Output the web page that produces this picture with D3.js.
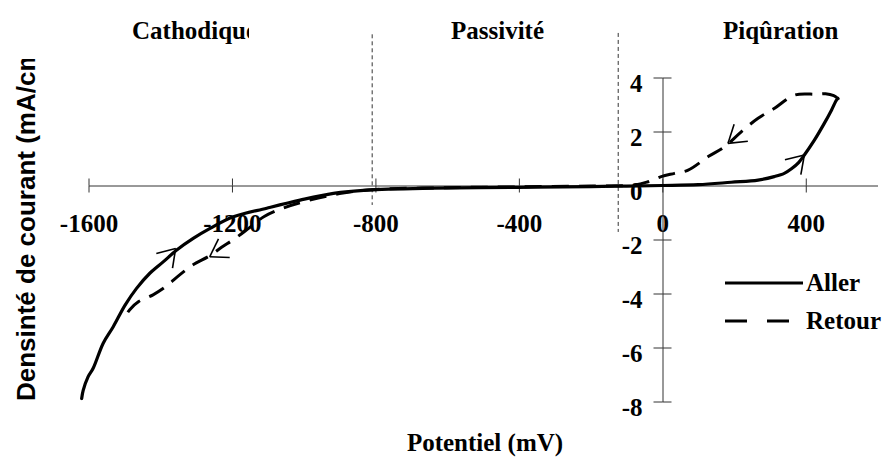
<!DOCTYPE html>
<html>
<head>
<meta charset="utf-8">
<script src="https://cdn.jsdelivr.net/npm/d3@7"></script>
<style>
  html, body { margin: 0; padding: 0; background: #fff; }
  svg { display: block; }
  .serif { font-family: "Liberation Serif", "Times New Roman", serif; font-weight: bold; }
  .sans { font-family: "Liberation Sans", Arial, sans-serif; font-weight: bold; }
</style>
</head>
<body>
<svg id="chart" width="882" height="457"></svg>
<script>
// ---------- data ----------
const xTicks = [-1600, -1200, -800, -400, 0, 400];
const yTicks = [4, 2, 0, -2, -4, -6, -8];

const allerX = [-1619, -1615, -1601, -1587, -1559, -1531, -1498, -1466, -1429, -1391, -1354, -1308, -1261, -1196, -1103, -1010, -917, -824, -639, -400, -200, -100, 0, 100, 192, 267, 312, 340, 360, 380, 396, 424, 452, 472, 486, 490];
const allerY = [-7.89, -7.6, -7.08, -6.77, -5.84, -5.23, -4.43, -3.81, -3.25, -2.82, -2.39, -1.96, -1.59, -1.16, -0.84, -0.54, -0.29, -0.17, -0.10, -0.07, -0.04, -0.02, 0, 0.03, 0.12, 0.2, 0.33, 0.45, 0.62, 0.85, 1.13, 1.68, 2.31, 2.8, 3.17, 3.22];

const retourX = [490, 478, 455, 430, 369, 313, 267, 220, 174, 128, 72, 34, -3, -40, -77, -200, -400, -600, -800, -900, -1000, -1060, -1110, -1150, -1190, -1230, -1262, -1310, -1345, -1385, -1420, -1460, -1485, -1500];
const retourY = [3.22, 3.33, 3.4, 3.38, 3.35, 2.86, 2.49, 1.99, 1.44, 1.07, 0.57, 0.45, 0.33, 0.14, 0.02, -0.02, -0.05, -0.08, -0.15, -0.3, -0.6, -0.85, -1.15, -1.55, -1.95, -2.3, -2.6, -2.95, -3.3, -3.75, -4.05, -4.3, -4.6, -4.9];

// direction arrows on the curves (position in data units, back angle in degrees)
const arrowX = [-1357, -1262, 396, 183];
const arrowY = [-2.33, -2.64, 1.13, 1.56];
const arrowBack = [132, -31, 133, -39];

// region boundaries (mV) and their vertical extent (mA/cm²)
const boundX = [-809, -123];
const boundTop = [5.6, 5.65];
const boundBottom = [-0.72, -1.72];

const regionNames = ["Cathodique", "Passivité", "Piqûration"];
const seriesNames = ["Aller", "Retour"];
const xTitle = "Potentiel (mV)";
const yTitle = "Densinté de courant (mA/cm²)";

// ---------- scales ----------
const svg = d3.select("#chart");
const x = d3.scaleLinear().domain([-1600, 600]).range([88.5, 877.5]);
const y = d3.scaleLinear().domain([-8, 4]).range([401.5, 77.5]);
const x0 = Math.round(x(0)) + 0.5, y0 = y(0);

const defs = svg.append("defs");
defs.append("clipPath").attr("id", "clipCath").append("rect")
  .attr("x", 0).attr("y", 0).attr("width", 249).attr("height", 80);
defs.append("clipPath").attr("id", "clipY").append("rect")
  .attr("x", 0).attr("y", 59).attr("width", 80).attr("height", 398);

// ---------- region boundaries ----------
svg.append("g").selectAll("line").data(boundX).join("line")
  .attr("x1", d => x(d)).attr("x2", d => x(d))
  .attr("y1", (d, i) => y(boundTop[i])).attr("y2", (d, i) => y(boundBottom[i]))
  .attr("stroke", "#333").attr("stroke-width", 1).attr("stroke-dasharray", "4,3");

// ---------- axes ----------
function styleAxis(g) {
  g.selectAll("path.domain").attr("stroke", "#333").attr("stroke-width", 1);
  g.selectAll(".tick line").attr("stroke", "#333").attr("stroke-width", 1);
}
const xAxisB = svg.append("g").attr("transform", `translate(0,${y0})`)
  .call(d3.axisBottom(x).tickValues(xTicks).tickSizeInner(7).tickSizeOuter(0).tickPadding(22).tickFormat(d3.format("d")));
xAxisB.call(styleAxis);
xAxisB.selectAll("text").attr("class", "serif").attr("font-size", 25).attr("fill", "#000")
  .text(d => String(d));
const xAxisT = svg.append("g").attr("transform", `translate(0,${y0})`)
  .call(d3.axisTop(x).tickValues(xTicks).tickSizeInner(7).tickSizeOuter(0).tickFormat(""));
xAxisT.call(styleAxis);
xAxisT.select(".domain").remove();

const yAxisL = svg.append("g").attr("transform", `translate(${x0},0)`)
  .call(d3.axisLeft(y).tickValues(yTicks).tickSizeInner(9).tickSizeOuter(0).tickPadding(11).tickFormat(d3.format("d")));
yAxisL.call(styleAxis);
yAxisL.selectAll("text").attr("class", "serif").attr("font-size", 25).attr("fill", "#000")
  .attr("dy", "0.55em").text(d => String(d));
yAxisL.selectAll(".tick").filter(d => d === 0).select("line").remove();
const yAxisR = svg.append("g").attr("transform", `translate(${x0},0)`)
  .call(d3.axisRight(y).tickValues(yTicks.filter(d => d !== 0)).tickSizeInner(9).tickSizeOuter(0).tickFormat(""));
yAxisR.call(styleAxis);
yAxisR.select(".domain").remove();

// ---------- curves ----------
const line = d3.line().x(d => x(d[0])).y(d => y(d[1])).curve(d3.curveCatmullRom.alpha(0.5));
const allerPts = allerX.map((v, i) => [v, allerY[i]]);
const retourPts = retourX.map((v, i) => [v, retourY[i]]);

svg.append("path").datum(retourPts).attr("d", line)
  .attr("fill", "none").attr("stroke", "#000").attr("stroke-width", 3)
  .attr("stroke-dasharray", "17,10").attr("stroke-linecap", "butt");
svg.append("path").datum(allerPts).attr("d", line)
  .attr("fill", "none").attr("stroke", "#000").attr("stroke-width", 3.2)
  .attr("stroke-linejoin", "round").attr("stroke-linecap", "round");

// ---------- arrows ----------
const wingLen = 20, half = 33;
const arrows = arrowX.map((v, i) => ({ px: x(v), py: y(arrowY[i]), back: arrowBack[i] }));
const ag = svg.append("g");
arrows.forEach(a => {
  [-half, half].forEach(h => {
    const ang = (a.back + h) * Math.PI / 180;
    ag.append("line")
      .attr("x1", a.px).attr("y1", a.py)
      .attr("x2", a.px + wingLen * Math.cos(ang)).attr("y2", a.py + wingLen * Math.sin(ang))
      .attr("stroke", "#000").attr("stroke-width", 1.6);
  });
});

// ---------- region titles ----------
const titleX = [132, 451, 723];
svg.append("g").selectAll("text").data(regionNames).join("text")
  .attr("class", "serif").attr("font-size", 25).attr("fill", "#000")
  .attr("x", (d, i) => titleX[i]).attr("y", 39)
  .attr("clip-path", (d, i) => i === 0 ? "url(#clipCath)" : null)
  .text(d => d);

// ---------- axis titles ----------
svg.append("text").attr("class", "serif").attr("font-size", 25).attr("fill", "#000")
  .attr("x", 485).attr("y", 451).attr("text-anchor", "middle").text(xTitle);
svg.append("g").attr("clip-path", "url(#clipY)")
  .append("text").attr("class", "sans").attr("font-size", 26).attr("fill", "#000")
  .attr("transform", "translate(35,401) rotate(-90)").attr("text-anchor", "start").text(yTitle);

// ---------- legend ----------
const legY = [283, 321];
const lg = svg.append("g");
seriesNames.forEach((name, i) => {
  lg.append("line").attr("x1", 725).attr("x2", i === 0 ? 803 : 792)
    .attr("y1", legY[i]).attr("y2", legY[i])
    .attr("stroke", "#000").attr("stroke-width", 3)
    .attr("stroke-dasharray", i === 0 ? null : "22,20");
  lg.append("text").attr("class", "serif").attr("font-size", 25).attr("fill", "#000")
    .attr("x", 806).attr("y", legY[i] + 8).text(name);
});
</script>
</body>
</html>
